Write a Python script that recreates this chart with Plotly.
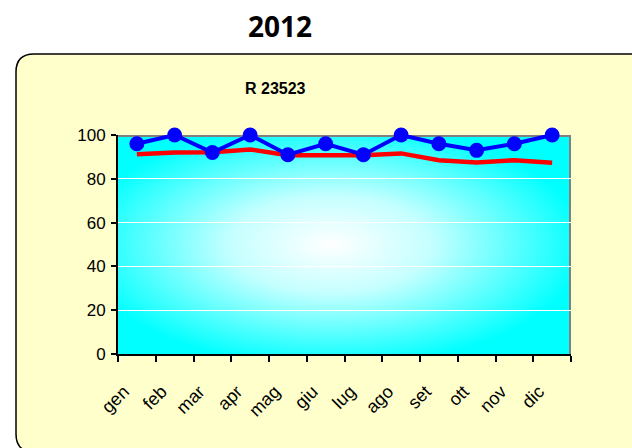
import base64
import plotly.graph_objects as go

# Monthly series for 2012
months = ["gen", "feb", "mar", "apr", "mag", "giu", "lug", "ago", "set", "ott", "nov", "dic"]
blue_values = [96, 100, 92, 100, 91, 96, 91, 100, 96, 93, 96, 100]
red_values = [91.2, 92, 92.1, 93.4, 90.8, 90.8, 90.7, 91.6, 88.5, 87.5, 88.5, 87.3]
y_ticks = [0, 20, 40, 60, 80, 100]

W, H = 632, 448
L, R, T, B = 118, 61, 135, 94
PW, PH = W - L - R, H - T - B


def px_x(px):
    return (px - L) / PW


def px_y(py):
    return (H - B - py) / PH


# radial cyan-to-white fill for the plotting area, with its grey top/right frame
svg = (
    f'<svg xmlns="http://www.w3.org/2000/svg" width="{PW}" height="{PH}" '
    'preserveAspectRatio="none"><defs><radialGradient id="g" cx="0.47" cy="0.5" r="0.56">'
    '<stop offset="0" stop-color="#ffffff"/><stop offset="0.4" stop-color="#c4ffff"/>'
    '<stop offset="1" stop-color="#00ffff"/></radialGradient></defs>'
    f'<rect width="{PW}" height="{PH}" fill="url(#g)"/>'
    f'<path d="M0,1 L{PW - 1},1 L{PW - 1},{PH}" fill="none" stroke="#808080" stroke-width="2"/>'
    '</svg>'
)
gradient_src = "data:image/svg+xml;base64," + base64.b64encode(svg.encode()).decode()

fig = go.Figure()

fig.add_trace(go.Scatter(
    x=months, y=red_values, mode="lines",
    line=dict(color="#ff0000", width=4.5),
    hoverinfo="skip", showlegend=False, cliponaxis=False,
))
fig.add_trace(go.Scatter(
    x=months, y=blue_values, mode="lines+markers",
    line=dict(color="#0000ff", width=4),
    marker=dict(color="#0000ff", size=15),
    hoverinfo="skip", showlegend=False, cliponaxis=False,
))

# rounded panel behind the chart
path = (
    f"M {px_x(16)},{px_y(72)} Q {px_x(16)},{px_y(54)} {px_x(34)},{px_y(54)} "
    f"L {px_x(660)},{px_y(54)} L {px_x(660)},{px_y(452)} L {px_x(34)},{px_y(452)} "
    f"Q {px_x(16)},{px_y(452)} {px_x(16)},{px_y(434)} Z"
)
fig.add_shape(type="path", path=path, xref="paper", yref="paper",
              fillcolor="#ffffcc", line=dict(color="#000000", width=1.5), layer="below")

fig.add_layout_image(dict(
    source=gradient_src, xref="x", yref="y", x=-0.5, y=100,
    sizex=12, sizey=100, sizing="stretch", xanchor="left", yanchor="top", layer="below",
))

fig.add_annotation(text="<b>2012</b>", xref="paper", yref="paper",
                   x=px_x(280), y=px_y(26), xanchor="center", yanchor="middle",
                   showarrow=False,
                   font=dict(family="Comic Sans MS, Open Sans", size=28, color="#000000"))
fig.add_annotation(text="<b>R 23523</b>", xref="paper", yref="paper",
                   x=px_x(275), y=px_y(89), xanchor="center", yanchor="middle",
                   showarrow=False,
                   font=dict(family="Liberation Sans, Arial", size=16, color="#000000"))

fig.update_layout(
    width=W, height=H,
    margin=dict(l=L, r=R, t=T, b=B, pad=0),
    paper_bgcolor="#ffffff",
    plot_bgcolor="#00ffff",
    font=dict(family="Liberation Sans, Arial", size=16, color="#000000"),
    xaxis=dict(
        type="category", range=[-0.5, 11.5], tickson="boundaries",
        showgrid=False, showline=True, linecolor="#000000", linewidth=2,
        ticks="outside", ticklen=6, tickcolor="#000000", tickwidth=1.5,
        tickangle=-45, tickfont=dict(size=18), ticklabelstandoff=18,
        ticklabelshift=-13, fixedrange=True,
    ),
    yaxis=dict(
        range=[0, 100], tickvals=y_ticks, showgrid=True, gridcolor="#ffffff", gridwidth=1,
        showline=True, linecolor="#000000", linewidth=2,
        ticks="outside", ticklen=5, tickcolor="#000000", tickwidth=1.5,
        tickfont=dict(size=17), ticklabelstandoff=2, zeroline=False, fixedrange=True,
    ),
)

fig.write_html("out.html")
